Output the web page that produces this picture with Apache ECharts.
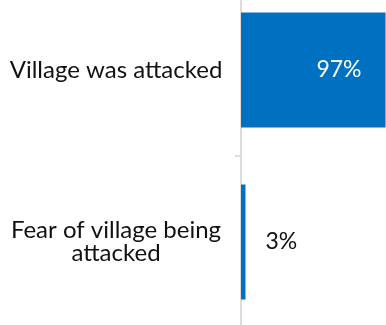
<!DOCTYPE html>
<html><head><meta charset="utf-8">
<script src="https://cdn.jsdelivr.net/npm/echarts@6/dist/echarts.min.js"></script>
<style>html,body{margin:0;padding:0;background:#fff}#c{width:386px;height:325px}</style>
</head><body><div id="c"></div>
<script>
const categories = ["Village was attacked", "Fear of village being\nattacked"];
const values = [97, 3];
const labels = ["97%", "3%"];

const chart = echarts.init(document.getElementById('c'), null, {renderer: 'canvas'});
chart.setOption({
  animation: false,
  grid: {left: 241, right: -4, top: -16, bottom: -3, containLabel: false, outerBoundsMode: 'none'},
  xAxis: {type: 'value', min: 0, max: 100, show: false},
  yAxis: {
    type: 'category', inverse: true, data: categories,
    axisLine: {show: true, lineStyle: {color: '#dddddd', width: 2}},
    axisTick: {show: true, length: 6, lineStyle: {color: '#dddddd', width: 2}},
    axisLabel: {fontFamily: 'Lato', fontSize: 24, color: '#111', align: 'center', margin: 125, lineHeight: 23}
  },
  series: [{
    type: 'bar', barWidth: 115,
    data: values.map((v, i) => ({
      value: v,
      label: i === 0
        ? {show: true, position: 'insideRight', distance: 24, color: '#fff', formatter: labels[i]}
        : {show: true, position: 'right', distance: 20, color: '#111', formatter: labels[i]}
    })),
    itemStyle: {color: '#0070c0'},
    label: {fontFamily: 'Lato', fontSize: 23}
  }]
});
</script></body></html>
